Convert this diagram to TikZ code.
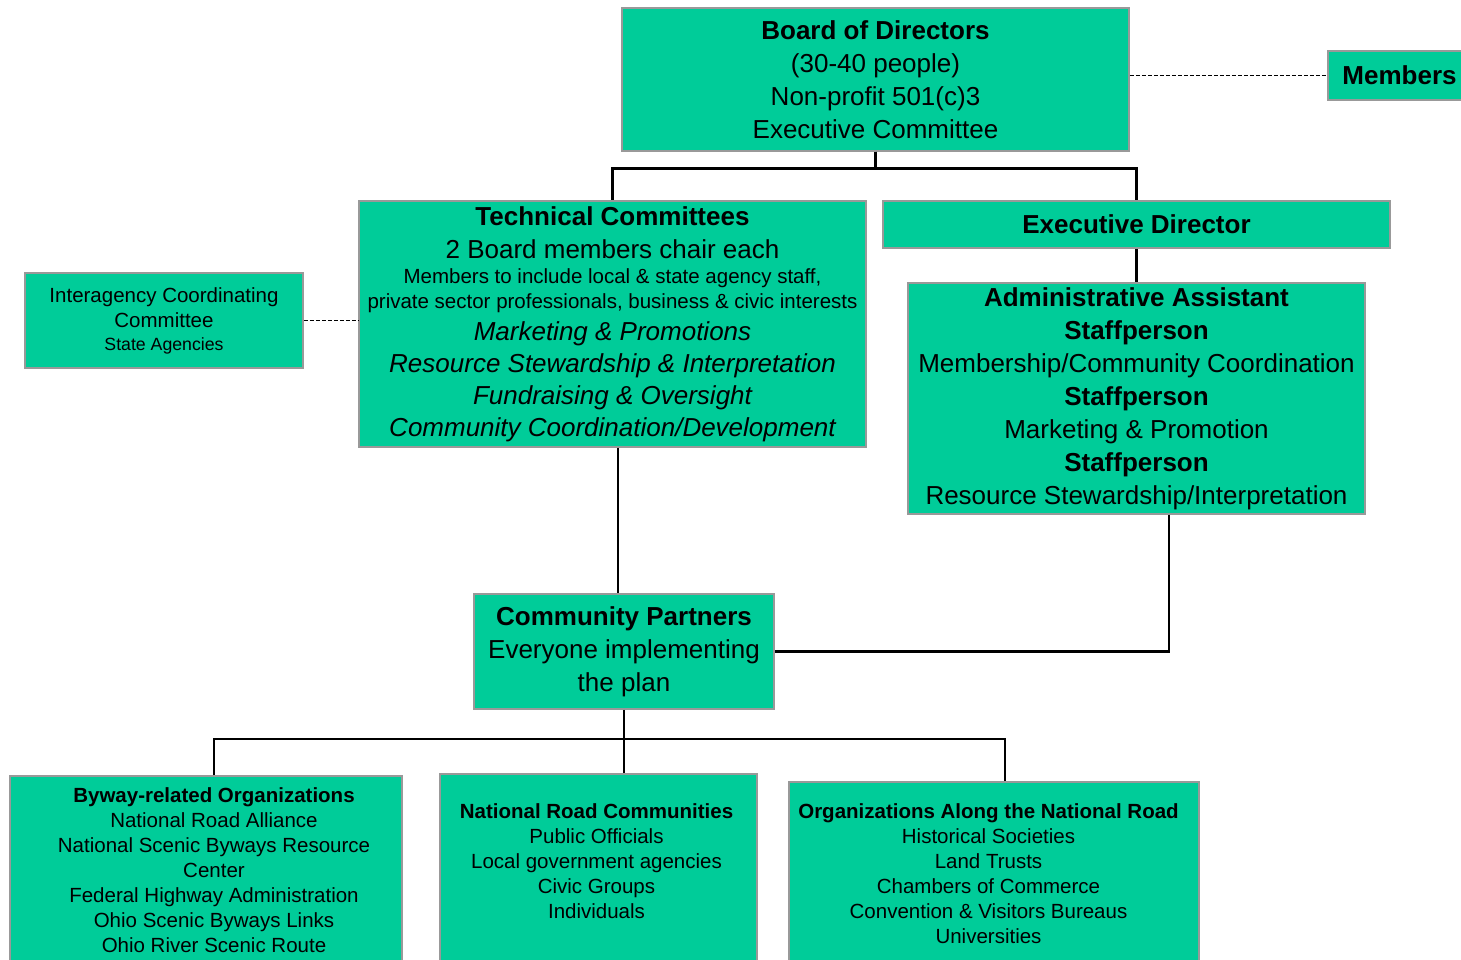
\documentclass[tikz,border=0pt]{standalone}
\usepackage{fontspec}
\setmainfont{Liberation Sans}
\definecolor{boardgreen}{HTML}{00CC99}
\definecolor{edgegray}{HTML}{999999}
\newcommand\bigtxt{\fontsize{26}{33}\selectfont}
\newcommand\midtxt{\fontsize{20.5}{25}\selectfont}
\newcommand\tinytxt{\fontsize{17.7}{23}\selectfont}

\begin{document}
\begin{tikzpicture}[x=1pt,y=-1pt,
  orgbox/.style={draw=edgegray, fill=boardgreen, line width=1.5pt, inner sep=0pt, align=flush center, font=\bigtxt},
  link/.style={line width=2.5pt},
  treelink/.style={line width=1.3pt},
  dashlink/.style={line width=1.2pt, dash pattern=on 4pt off 2pt}]
\useasboundingbox (0,0) rectangle (1461,960);

% top of the chart
\node[orgbox, text width=507pt, minimum height=143pt] (board) at (875.5,79.5)
  {{\bfseries Board of Directors\par}
   (30-40 people)\\ Non-profit 501(c)3\\ Executive Committee};
\node[orgbox, text width=134pt, minimum height=49pt] (members) at (1395,75.5)
  {\leftskip=9pt plus 1fil\bfseries Members\par};

% second row
\node[orgbox, text width=507pt, minimum height=246pt] (tech) at (612.5,324)
  {{\bfseries Technical Committees\par}
   2 Board members chair each\par
   {\midtxt Members to include local \& state agency staff,\\ private sector professionals, business \& civic interests\par}
   {\fontsize{26}{32}\selectfont\itshape Marketing \& Promotions\\ Resource Stewardship \& Interpretation\\ Fundraising \& Oversight\\ Community Coordination/Development\par}};
\node[orgbox, text width=507pt, minimum height=47pt] (exec) at (1136.5,224.5)
  {\bfseries Executive Director};
\node[orgbox, text width=457pt, minimum height=231pt] (admin) at (1136.5,398.5)
  {{\bfseries Administrative Assistant\\ Staffperson\par}
   Membership/Community Coordination\par
   {\bfseries Staffperson\par}
   Marketing \& Promotion\par
   {\bfseries Staffperson\par}
   Resource Stewardship/Interpretation};
\node[orgbox, text width=278pt, minimum height=95pt, font=\midtxt] (inter) at (164,320.5)
  {Interagency Coordinating\\ Committee\par
   {\tinytxt State Agencies\par}};

% partners
\node[orgbox, text width=300pt, minimum height=115pt] (cp) at (624,651.5)
  {{\bfseries Community Partners\par}
   Everyone implementing\\ the plan};

% bottom row
\node[orgbox, anchor=north, text width=392pt, text height=27pt, text depth=200pt, font=\midtxt] (byway) at (206,775)
  {\leftskip=16pt plus 1fil
   {\bfseries Byway-related Organizations\par}
   National Road Alliance\\ National Scenic Byways Resource\\ Center\\
   Federal Highway Administration\\ Ohio Scenic Byways Links\\ Ohio River Scenic Route\par};
\node[orgbox, anchor=north, text width=317pt, text height=45pt, text depth=200pt, font=\midtxt] (nrc) at (598.5,773)
  {\rightskip=4pt plus 1fil
   {\bfseries National Road Communities\par}
   Public Officials\\ Local government agencies\\ Civic Groups\\ Individuals\par};
\node[orgbox, anchor=north, text width=410pt, text height=37pt, text depth=200pt, font=\midtxt] (orgs) at (994,781)
  {\rightskip=11pt plus 1fil
   {\bfseries Organizations Along the National Road\par}
   Historical Societies\\ Land Trusts\\ Chambers of Commerce\\
   Convention \& Visitors Bureaus\\ Universities\par};

% connectors
\draw[dashlink] (board.east |- members.west) -- (members.west);
\draw[dashlink] (inter.east) -- (inter.east -| tech.west);
\draw[link] (board.south) -- +(0,17) -| (tech.north);
\draw[link] (board.south) -- +(0,17) -| (exec.north);
\draw[link] (exec.south) -- (admin.north);
\coordinate (tcp) at (618,0);
\coordinate (acp) at (1169,0);
\draw[link] (tech.south -| tcp) -- (cp.north -| tcp);
\draw[link] (admin.south -| acp) |- (cp.east);
\coordinate (bl) at (214,739);
\coordinate (br) at (1005,739);
\draw[treelink] (cp.south) -- (nrc.north -| cp.south);
\draw[treelink] (byway.north -| bl) |- (br) -- (orgs.north -| br);
\end{tikzpicture}
\end{document}
